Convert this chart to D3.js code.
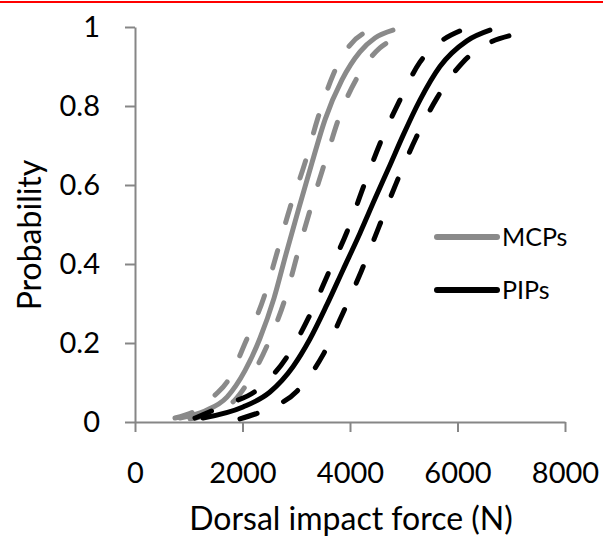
<!DOCTYPE html>
<html lang="en">
	<head>
		<meta charset="utf-8">
		<title>Probability vs dorsal impact force</title>
		<script type="text/javascript" src="https://cdn.jsdelivr.net/npm/d3@7"></script>
		<style type="text/css">
			body { margin: 0; background: white; }
			text { font-family: Lato, "Open Sans", sans-serif; fill: black; }
		</style>
	</head>
	<body>
		<script type="text/javascript">
			//Width and height
			var w = 603;
			var h = 537;

			var xTicks = [0, 2000, 4000, 6000, 8000];
			var yTicks = [0, 0.2, 0.4, 0.6, 0.8, 1];
			var seriesNames = ["MCPs", "PIPs"];

			// [force (N), probability]
			var mcpMean = [[837,0.010],[1302,0.028],[1711,0.063],[2046,0.130],[2325,0.212],[2585,0.313],[2809,0.425],
				[3050,0.542],[3292,0.656],[3534,0.765],[3850,0.866],[4185,0.937],[4464,0.972],[4799,0.992]];
			var mcpLow = [[744,0.010],[1209,0.035],[1488,0.068],[1711,0.101],[2065,0.205],[2399,0.316],[2641,0.428],
				[2883,0.542],[3162,0.656],[3404,0.770],[3683,0.878],[3999,0.954],[4371,0.992]];
			var mcpHigh = [[1023,0.008],[1581,0.030],[1860,0.056],[2102,0.101],[2511,0.210],[2809,0.319],[3032,0.430],
				[3274,0.544],[3534,0.658],[3813,0.777],[4185,0.884],[4557,0.947],[4985,0.975]];

			var pipMean = [[1265,0.010],[2009,0.038],[2511,0.076],[2939,0.140],[3255,0.210],[3571,0.297],[3869,0.385],
				[4185,0.478],[4464,0.565],[4743,0.650],[4985,0.725],[5301,0.815],[5673,0.900],[6175,0.965],[6603,0.992]];
			var pipLow = [[1116,0.010],[1674,0.043],[2269,0.081],[2827,0.165],[3236,0.266],[3608,0.380],[3943,0.481],
				[4241,0.592],[4576,0.711],[4910,0.810],[5301,0.911],[5673,0.962],[6045,0.990]];
			var pipHigh = [[1953,0.008],[2418,0.030],[3013,0.078],[3497,0.170],[3869,0.276],[4204,0.380],[4538,0.494],
				[4855,0.603],[5227,0.719],[5617,0.820],[6101,0.911],[6510,0.954],[7031,0.980]];

			var gray = "#8a8a8a";
			var axisColor = "#868686";

			var svg = d3.select("body")
						.append("svg")
						.attr("width", w)
						.attr("height", h);

			svg.append("rect")
				.attr("width", w).attr("height", h)
				.attr("fill", "white");

			// red rule at the top
			svg.append("rect")
				.attr("x", 0).attr("y", 1)
				.attr("width", w).attr("height", 2)
				.attr("fill", "#ff0000");

			var xScale = d3.scaleLinear()
							.domain([0, 8000])
							.range([135, 565]);
			var yScale = d3.scaleLinear()
							.domain([0, 1])
							.range([422, 27]);

			//Axes
			var xAxis = svg.append("g")
				.attr("transform", "translate(0," + yScale(0) + ")")
				.call(d3.axisBottom(xScale).tickValues(xTicks).tickSize(10).tickSizeOuter(0).tickPadding(30)
					.tickFormat(d3.format("d")));
			var yAxis = svg.append("g")
				.attr("transform", "translate(" + xScale(0) + ",0)")
				.call(d3.axisLeft(yScale).tickValues(yTicks).tickSize(10).tickSizeOuter(0).tickPadding(25)
					.tickFormat(function(d) { return d === 0 || d === 1 ? d : d3.format(".1f")(d); }));

			[xAxis, yAxis].forEach(function(a) {
				a.select(".domain").attr("stroke", axisColor).attr("stroke-width", 2);
				a.selectAll(".tick line").attr("stroke", axisColor).attr("stroke-width", 2);
				a.selectAll(".tick text")
					.attr("font-family", "Lato, sans-serif")
					.attr("font-size", "29px")
					.attr("fill", "black");
			});

			//Curves
			var line = d3.line()
				.x(function(d) { return xScale(d[0]); })
				.y(function(d) { return yScale(d[1]); })
				.curve(d3.curveMonotoneX);

			var curves = [
				{ data: mcpLow, color: gray, dash: true },
				{ data: mcpHigh, color: gray, dash: true },
				{ data: mcpMean, color: gray, dash: false },
				{ data: pipLow, color: "black", dash: true },
				{ data: pipHigh, color: "black", dash: true },
				{ data: pipMean, color: "black", dash: false }
			];

			svg.selectAll("path.curve")
				.data(curves)
				.enter()
				.append("path")
				.attr("class", "curve")
				.attr("d", function(d) { return line(d.data); })
				.attr("fill", "none")
				.attr("stroke", function(d) { return d.color; })
				.attr("stroke-width", 5)
				.attr("stroke-linecap", "round")
				.attr("stroke-dasharray", function(d) { return d.dash ? "18,29" : null; });

			//Legend
			var legend = svg.selectAll("g.legend")
				.data(seriesNames)
				.enter()
				.append("g")
				.attr("class", "legend")
				.attr("transform", function(d, i) { return "translate(437," + (237 + i * 53) + ")"; });

			legend.append("line")
				.attr("x1", 0).attr("x2", 60)
				.attr("stroke", function(d, i) { return i === 0 ? gray : "black"; })
				.attr("stroke-width", 6)
				.attr("stroke-linecap", "round");

			legend.append("text")
				.attr("x", 65)
				.attr("dy", "0.36em")
				.attr("font-size", "25px")
				.text(function(d) { return d; });

			//Axis titles
			svg.append("text")
				.attr("x", 351)
				.attr("y", 519)
				.attr("dy", "0.35em")
				.attr("text-anchor", "middle")
				.attr("font-size", "32px")
				.text("Dorsal impact force (N)");

			svg.append("text")
				.attr("transform", "translate(30,235) rotate(-90)")
				.attr("dy", "0.35em")
				.attr("text-anchor", "middle")
				.attr("font-size", "32px")
				.text("Probability");
		</script>
	</body>
</html>
